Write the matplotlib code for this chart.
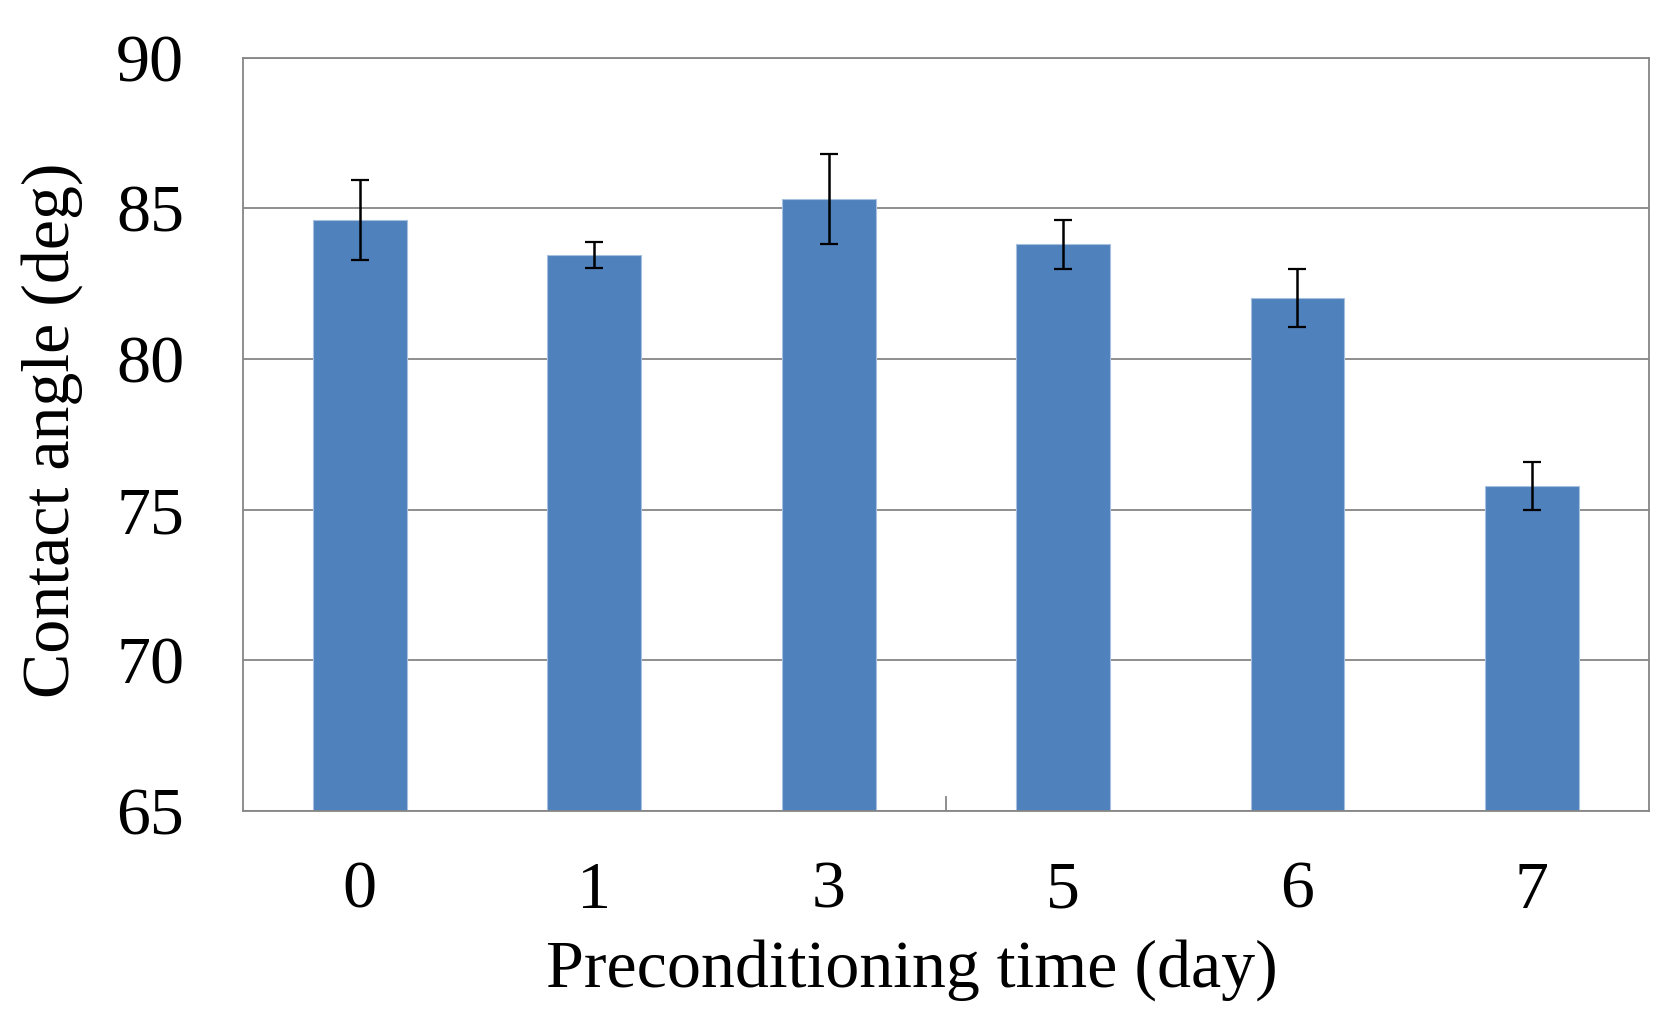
import matplotlib
matplotlib.use("Agg")
import matplotlib.pyplot as plt

categories = ["0", "1", "3", "5", "6", "7"]
contact_angle = [84.6, 83.45, 85.3, 83.8, 82.03, 75.78]
errors = [1.33, 0.42, 1.5, 0.8, 0.96, 0.8]
yticks = [65, 70, 75, 80, 85, 90]

plt.rcParams['font.family'] = ['Liberation Serif', 'DejaVu Serif']

fig = plt.figure(figsize=(16.68, 10.28), dpi=100)
ax = fig.add_axes([0.1455, 0.2111, 0.9886 - 0.1455, 0.944 - 0.2111])

x = list(range(len(categories)))
ax.bar(x, contact_angle, width=0.4, color='#4F81BD', edgecolor='#A7C0E0',
       linewidth=0.8, zorder=2)
ax.errorbar(x, contact_angle, yerr=errors, fmt='none', ecolor='black',
            elinewidth=1.8, capsize=6.5, capthick=1.6, zorder=3)

ax.set_xlim(-0.5, len(categories) - 0.5)
ax.set_ylim(65, 90)
ax.set_yticks(yticks)
ax.set_xticks(x)
ax.set_xticklabels(categories)

ax.yaxis.grid(True, color='#868686', linewidth=1.3, zorder=1)
ax.set_axisbelow(True)
for s in ax.spines.values():
    s.set_color('#868686')
    s.set_linewidth(1.3)

ax.tick_params(axis='both', length=0, labelsize=49)
ax.tick_params(axis='y', pad=42)
ax.tick_params(axis='x', pad=36)

# single small tick mark at bottom between categories
ax.axvline(2.5, ymin=0, ymax=0.018, color='#868686', linewidth=1.3, zorder=1)

ax.set_xlabel("Preconditioning time (day)", fontsize=49, labelpad=12, x=0.476)
ax.set_ylabel("Contact angle (deg)", fontsize=49, labelpad=24, y=0.505)

fig.savefig("out.png", dpi=100)
